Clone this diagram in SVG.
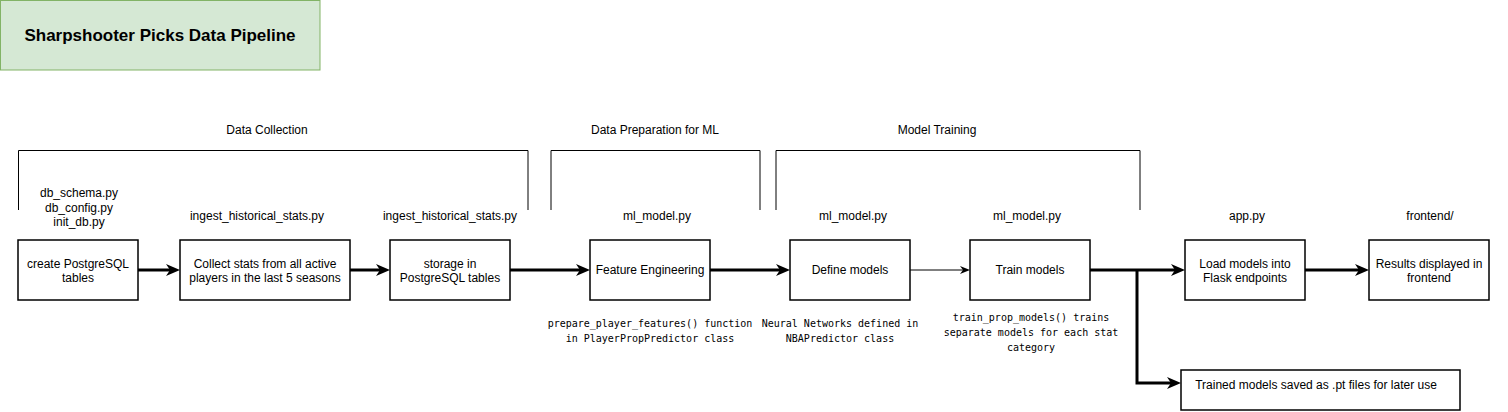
<svg xmlns="http://www.w3.org/2000/svg" width="1508" height="412" viewBox="0 0 1508 412">
<style>
.box{fill:#fff;stroke:#000;stroke-width:1.5}
.br{fill:none;stroke:#000;stroke-width:1}
.t{font-family:"Liberation Sans",Arial,Helvetica,sans-serif;font-size:12px;fill:#000;text-anchor:middle}
.m{font-family:"DejaVu Sans Mono","Liberation Mono",monospace;font-size:10px;fill:#000;text-anchor:middle}
.title{font-family:"Liberation Sans",Arial,Helvetica,sans-serif;font-size:17px;font-weight:bold;fill:#000;text-anchor:middle}
.thick{fill:none;stroke:#000;stroke-width:3;marker-end:url(#ah)}
.thin{fill:none;stroke:#000;stroke-width:1;marker-end:url(#ahs)}
.plain{fill:none;stroke:#000;stroke-width:3}
</style>
<defs>
<marker id="ah" markerUnits="userSpaceOnUse" markerWidth="16" markerHeight="14" refX="4" refY="6" orient="auto" overflow="visible">
<path d="M0,0 L14,6 L0,12 L4,6 Z" fill="#000"/>
</marker>
<marker id="ahs" markerUnits="userSpaceOnUse" markerWidth="12" markerHeight="10" refX="3" refY="4" orient="auto" overflow="visible">
<path d="M0,0 L10,4 L0,8 L3,4 Z" fill="#000"/>
</marker>
</defs>
<rect width="1508" height="412" fill="#fff"/>

<g id="title">
<rect x="0.5" y="0.5" width="319.5" height="69.5" fill="#d5e8d4" stroke="#82b366" stroke-width="1"/>
<text class="title" x="160" y="41">Sharpshooter Picks Data Pipeline</text>
</g>

<g id="section-data-collection">
<path class="br" d="M18.5,210 V150.5 H528 V210"/>
<text class="t" x="267" y="134">Data Collection</text>
</g>
<g id="section-data-prep">
<path class="br" d="M551,210 V150.5 H760 V210"/>
<text class="t" x="655" y="134">Data Preparation for ML</text>
</g>
<g id="section-model-training">
<path class="br" d="M776,210 V150.5 H1140 V210"/>
<text class="t" x="937" y="134">Model Training</text>
</g>

<g id="connectors">
<path class="thick" d="M138,270 H170"/>
<path class="thick" d="M350,270 H380"/>
<path class="thick" d="M510,270 H580"/>
<path class="thick" d="M710,270 H780"/>
<path class="thin" d="M910,270 H963"/>
<path class="thick" d="M1090,270 H1175"/>
<path class="thick" d="M1137,270 V383 H1171"/>
<path class="thick" d="M1305,270 H1359"/>
</g>

<g id="node-create-tables">
<text class="t" x="79" y="197">db_schema.py</text>
<text class="t" x="79" y="212">db_config.py</text>
<text class="t" x="79" y="226">init_db.py</text>
<rect class="box" x="18" y="240" width="120" height="60"/>
<text class="t" x="78" y="268">create PostgreSQL</text>
<text class="t" x="78" y="282">tables</text>
</g>

<g id="node-collect-stats">
<text class="t" x="257" y="220">ingest_historical_stats.py</text>
<rect class="box" x="180" y="240" width="170" height="60"/>
<text class="t" x="265" y="268">Collect stats from all active</text>
<text class="t" x="265" y="282">players in the last 5 seasons</text>
</g>

<g id="node-storage">
<text class="t" x="450" y="220">ingest_historical_stats.py</text>
<rect class="box" x="390" y="240" width="120" height="60"/>
<text class="t" x="450" y="268">storage in</text>
<text class="t" x="450" y="282">PostgreSQL tables</text>
</g>

<g id="node-feature-engineering">
<text class="t" x="657" y="220">ml_model.py</text>
<rect class="box" x="590" y="240" width="120" height="60"/>
<text class="t" x="650" y="274">Feature Engineering</text>
<text class="m" x="650" y="327">prepare_player_features() function</text>
<text class="m" x="650" y="342">in PlayerPropPredictor class</text>
</g>

<g id="node-define-models">
<text class="t" x="853" y="220">ml_model.py</text>
<rect class="box" x="790" y="240" width="120" height="60"/>
<text class="t" x="850" y="274">Define models</text>
<text class="m" x="840" y="327">Neural Networks defined in</text>
<text class="m" x="840" y="342">NBAPredictor class</text>
</g>

<g id="node-train-models">
<text class="t" x="1027" y="220">ml_model.py</text>
<rect class="box" x="970" y="240" width="120" height="60"/>
<text class="t" x="1030" y="274">Train models</text>
<text class="m" x="1031" y="321">train_prop_models() trains</text>
<text class="m" x="1031" y="336">separate models for each stat</text>
<text class="m" x="1031" y="351">category</text>
</g>

<g id="node-flask">
<text class="t" x="1247" y="220">app.py</text>
<rect class="box" x="1185" y="240" width="120" height="60"/>
<text class="t" x="1245" y="268">Load models into</text>
<text class="t" x="1245" y="282">Flask endpoints</text>
</g>

<g id="node-frontend">
<text class="t" x="1430" y="220">frontend/</text>
<rect class="box" x="1369" y="240" width="120" height="60"/>
<text class="t" x="1429" y="268">Results displayed in</text>
<text class="t" x="1429" y="282">frontend</text>
</g>

<g id="node-saved-models">
<rect class="box" x="1181" y="370" width="279" height="40"/>
<text class="t" x="1316" y="389">Trained models saved as .pt files for later use</text>
</g>
</svg>
